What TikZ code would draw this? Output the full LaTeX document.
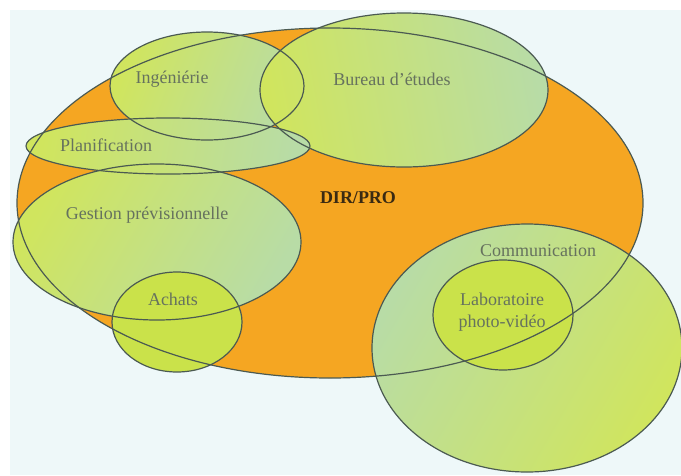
\documentclass[tikz,border=0pt]{standalone}
\usepackage{fontspec}
\setmainfont{Liberation Serif}
\definecolor{paper}{HTML}{EEF8F9}
\definecolor{dirorange}{HTML}{F5A622}
\definecolor{leafY}{HTML}{D0E55E}
\definecolor{leafB}{HTML}{B8DCA6}
\definecolor{leafS}{HTML}{CAE24A}
\definecolor{rim}{HTML}{4B5A52}
\definecolor{labeltext}{HTML}{66725E}
\definecolor{dirtext}{HTML}{3A2A12}
\begin{document}
\begin{tikzpicture}[x=1pt,y=-1pt,
  rimline/.style={draw=rim, line width=1.2pt},
  label/.style={text=labeltext, font=\fontsize{18}{22}\selectfont, inner sep=0pt, align=center},
  dirlabel/.style={text=dirtext, font=\fontsize{18}{22}\selectfont\bfseries, inner sep=0pt}]
\useasboundingbox (0,0) rectangle (681,475);
% page and tinted panel
\fill[white] (0,0) rectangle (681,475);
\fill[paper] (10,10) rectangle (681,475);

% centres of the zones
\coordinate (cDir) at (330,203);
\coordinate (cIng) at (207,86);
\coordinate (cBur) at (404,90);
\coordinate (cPla) at (168,146);
\coordinate (cGes) at (157,242);
\coordinate (cAch) at (177,322);
\coordinate (cCom) at (527,348);
\coordinate (cLab) at (503,315);

% DIR/PRO area
\fill[dirorange] (cDir) ellipse [x radius=313pt, y radius=175pt];

% service areas
\shade[left color=leafY, right color=leafB, shading angle=70] (cIng) ellipse [x radius=97pt, y radius=54pt];
\shade[left color=leafY, right color=leafB, shading angle=100] (cBur) ellipse [x radius=144pt, y radius=77pt];
\shade[left color=leafY, right color=leafB, shading angle=80] (cPla) ellipse [x radius=142pt, y radius=28pt];
\shade[left color=leafY, right color=leafB, shading angle=60] (cGes) ellipse [x radius=144pt, y radius=78pt];
\fill[leafS] (cAch) ellipse [x radius=65pt, y radius=50pt];
\shade[left color=leafB, right color=leafY, shading angle=60] (cCom) ellipse [x radius=155pt, y radius=124pt];
\fill[leafS] (cLab) ellipse [x radius=70pt, y radius=55pt];

% outlines on top
\draw[rimline] (cDir) ellipse [x radius=313pt, y radius=175pt];
\draw[rimline] (cIng) ellipse [x radius=97pt, y radius=54pt];
\draw[rimline] (cBur) ellipse [x radius=144pt, y radius=77pt];
\draw[rimline] (cPla) ellipse [x radius=142pt, y radius=28pt];
\draw[rimline] (cGes) ellipse [x radius=144pt, y radius=78pt];
\draw[rimline] (cAch) ellipse [x radius=65pt, y radius=50pt];
\draw[rimline] (cCom) ellipse [x radius=155pt, y radius=124pt];
\draw[rimline] (cLab) ellipse [x radius=70pt, y radius=55pt];

% labels
\node[label] (tIng) at (172,79) {Ingéniérie};
\node[label] (tBur) at (392,79) {Bureau d'études};
\node[label] (tPla) at (106,145) {Planification};
\node[label] (tGes) at (147,215) {Gestion prévisionnelle};
\node[dirlabel] (tDir) at (358,198) {DIR/PRO};
\node[label] (tAch) at (173,299) {Achats};
\node[label] (tCom) at (538,251) {Communication};
\node[label] (tLab) at (502,312) {Laboratoire\\photo-vidéo};
\end{tikzpicture}
\end{document}
